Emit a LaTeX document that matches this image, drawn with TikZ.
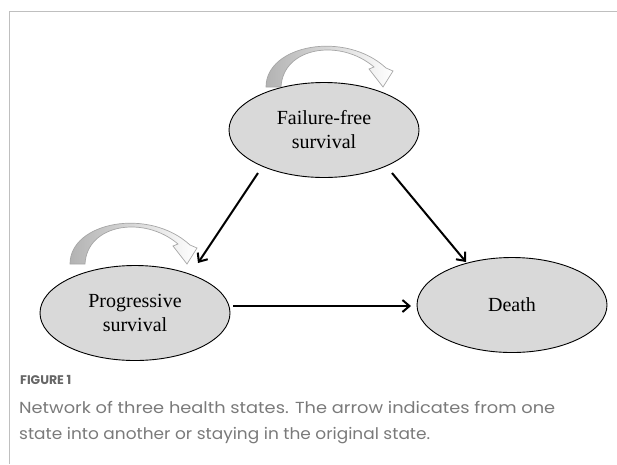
\documentclass[tikz,border=0pt]{standalone}
\usepackage{fontspec}
\setmainfont{Liberation Serif}
\newfontfamily\capfont{Poppins}
\usetikzlibrary{arrows.meta,shapes.geometric}
\tikzset{
  state/.style={ellipse, draw=black, line width=0.9pt, fill=black!15,
    minimum width=190pt, minimum height=95pt, inner sep=0pt, align=center,
    font=\fontsize{20}{24}\selectfont},
  arr/.style={line width=2pt, -{Straight Barb[length=7pt,width=12pt,line width=2pt]}},
  selfloop/.pic={
    \path[left color=black!30, right color=white, draw=black!35, line width=0.7pt]
      (-117,0) .. controls (-117,-42) and (-38,-57) .. (3,-19)
      -- (10,-16) -- (0,0) -- (-14,-18) -- (-9,-20)
      .. controls (-43,-49) and (-100,-40) .. (-102,0) -- cycle;
  },
  framelines/.style={draw=black!25, line width=1pt},
  captext/.style={anchor=base west, inner sep=0pt, text=black!52}
}
\begin{document}
\begin{tikzpicture}[x=1pt,y=-1pt]
\useasboundingbox (0,0) rectangle (617,464);
\draw[framelines] (9,464) -- (9,11) -- (617,11);
% self loops
\pic at (383,87) {selfloop};
\pic at (187,264) {selfloop};
% states
\node[state] (ffs) at (324,130) {Failure-free\\survival};
\node[state] (ps) at (135,313) {Progressive\\survival};
\node[state] (death) at (512,305) {Death};
% connector ends
\coordinate (ffsL) at (258,173);
\coordinate (ffsR) at (392,173);
\coordinate (psTip) at (198,263);
\coordinate (dTip) at (466,262);
\coordinate (psR) at (233,306);
\coordinate (dL) at (411,306);
\draw[arr] (ffsL) -- (psTip);
\draw[arr] (ffsR) -- (dTip);
\draw[arr] (psR) -- (dL);
% caption
\node[captext, font=\capfont\bfseries\fontsize{12.5}{14}\selectfont, text=black!60] (fig) at (20,384) {FIGURE 1};
\node[captext, font=\capfont\fontsize{16}{20}\selectfont] (l1) at (19,413) {\resizebox{536pt}{\height}{Network of three health states. The arrow indicates from one}};
\node[captext, font=\capfont\fontsize{16}{20}\selectfont] (l2) at (19,439) {\resizebox{411pt}{\height}{state into another or staying in the original state.}};
\end{tikzpicture}
\end{document}
